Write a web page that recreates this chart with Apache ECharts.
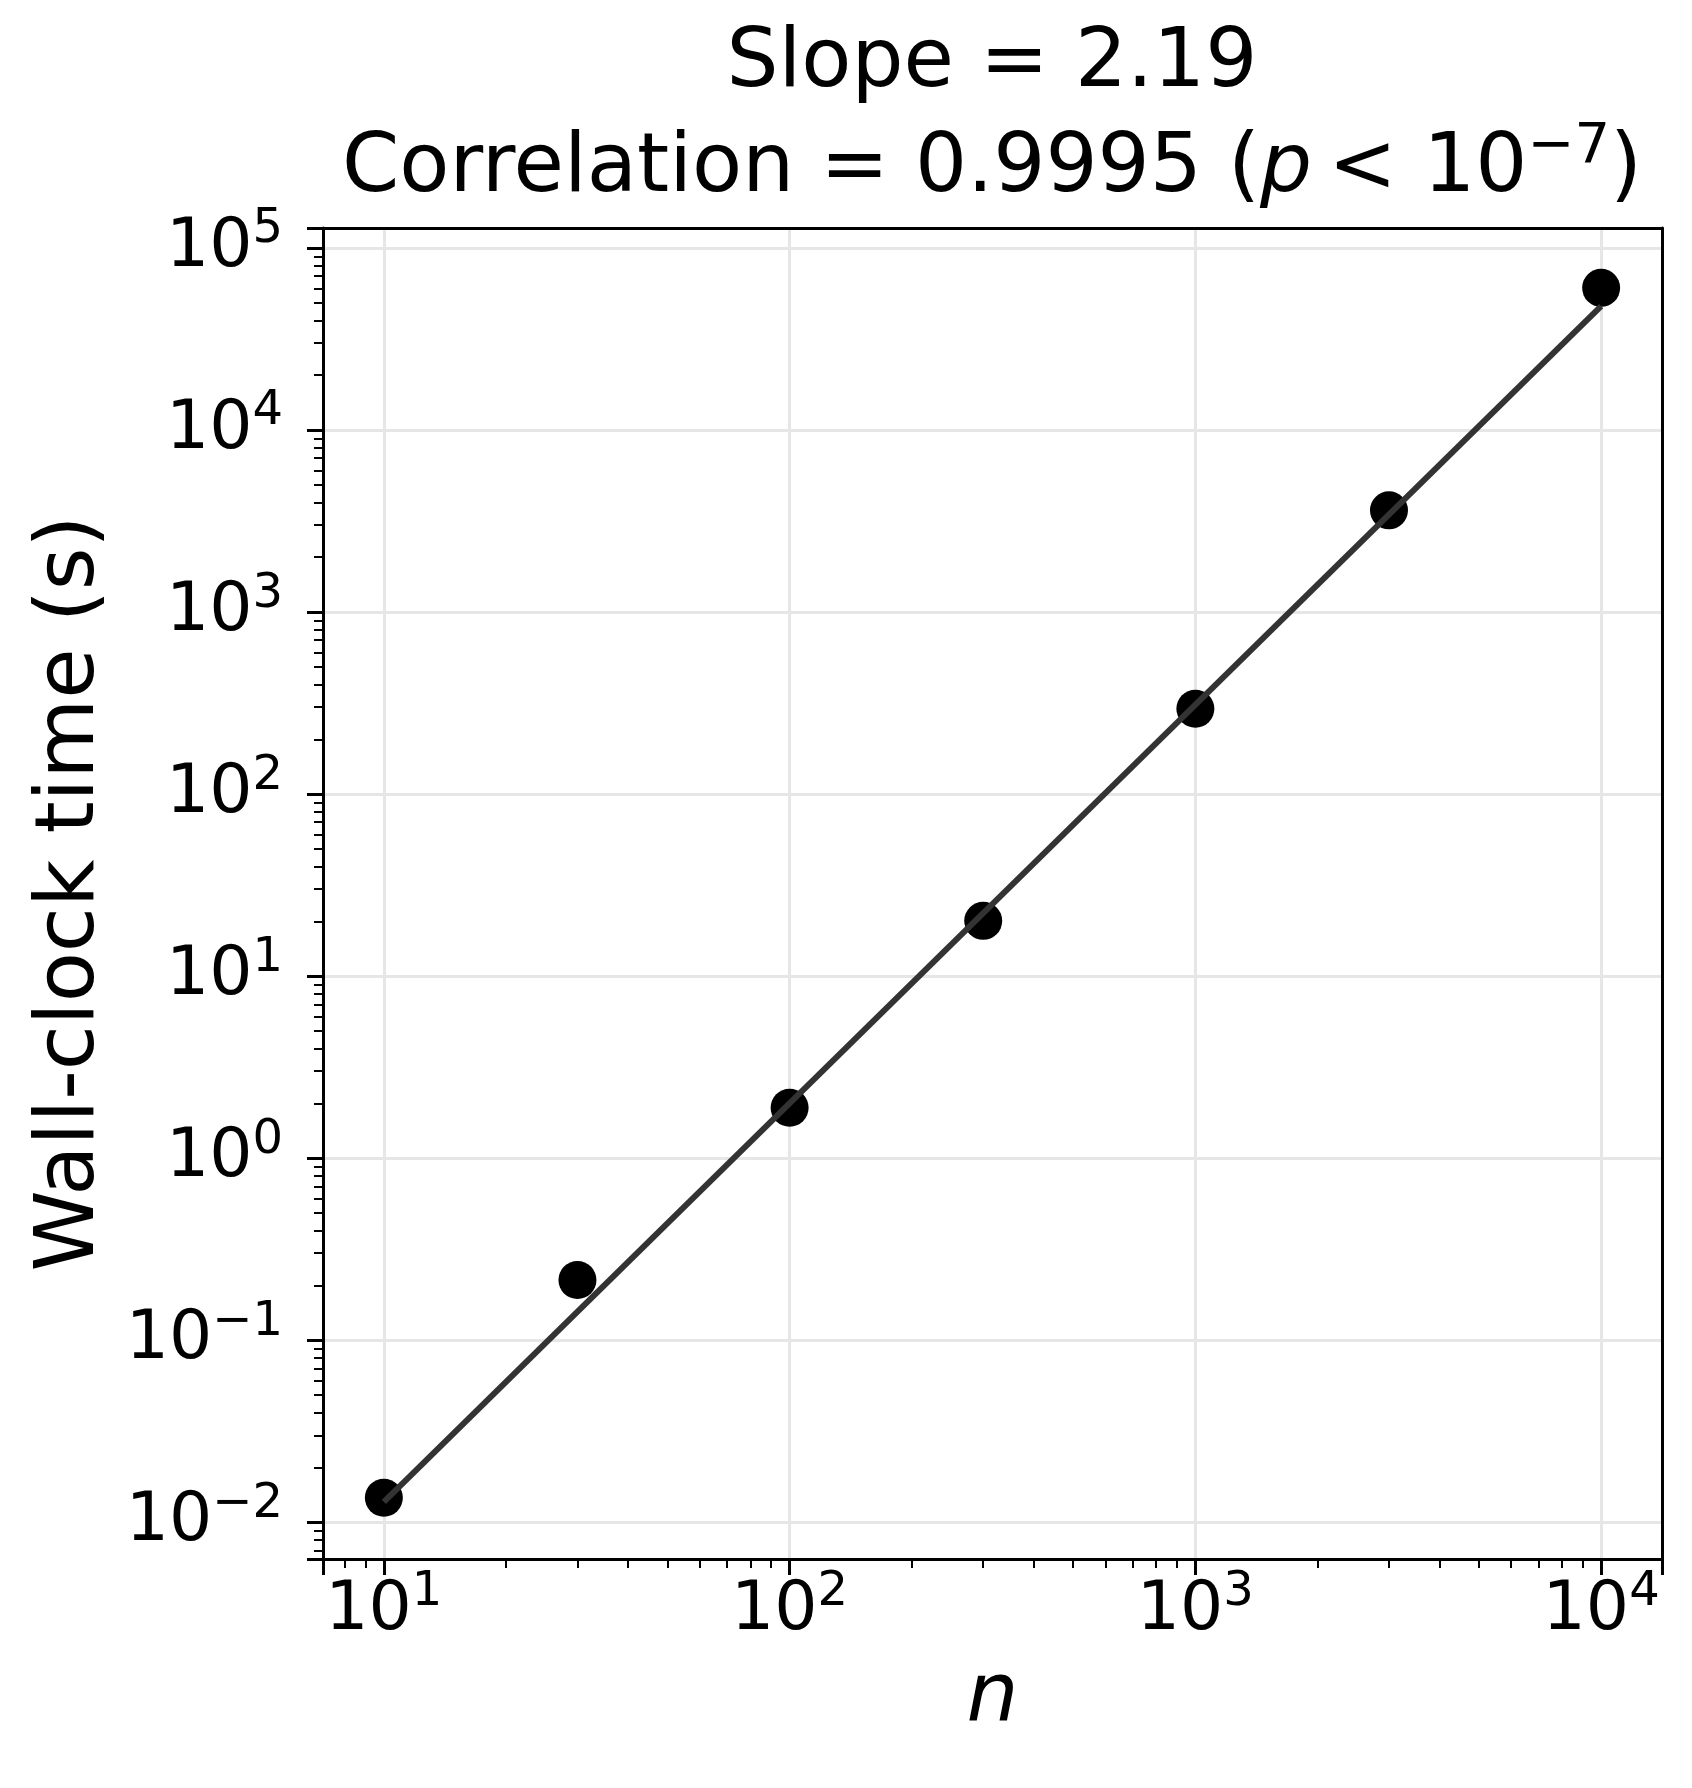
<!DOCTYPE html>
<html>
<head>
<meta charset="utf-8">
<script src="https://cdn.jsdelivr.net/npm/echarts@6/dist/echarts.min.js"></script>
<style>
  html, body { margin: 0; padding: 0; background: #fff; }
  #chart { width: 1692px; height: 1788px; }
</style>
</head>
<body>
<div id="chart"></div>
<script>
// measured points (n vs wall-clock seconds)
const nValues = [10, 30, 100, 300, 1000, 3000, 10000];
const wallTimes = [0.0136, 0.214, 1.89, 20.1, 294, 3620, 60400];
// fitted power-law line, read at its two ends
const fitN = [10, 10000];
const fitTimes = [0.0129, 48000];
// axis ranges (matplotlib 5% margins in log space)
const xRange = [7.08, 14125];
const yRange = [0.00627, 128800];

const FONT = 'DejaVu Sans';

// 10^k label, empty for anything that is not a power of ten
function powLabel(v) {
  const e = Math.log10(v);
  const r = Math.round(e);
  if (Math.abs(e - r) > 1e-6) return '';
  return '{b|10}{sup|' + (r < 0 ? '\u2212' + (-r) : r) + '}';
}

function tickLabel(extra) {
  return Object.assign({
    fontFamily: FONT, fontSize: 68, color: '#000',
    formatter: powLabel,
    rich: {
      b: { fontFamily: FONT, fontSize: 68, lineHeight: 68, color: '#000' },
      // raised exponent: bottom padding lifts the glyphs above the middle line
      sup: { fontFamily: FONT, fontSize: 48, lineHeight: 48, padding: [0, 0, 36, 0], color: '#000' }
    }
  }, extra);
}

const chart = echarts.init(document.getElementById('chart'));
chart.setOption({
  animation: false,
  backgroundColor: '#fff',
  title: {
    text: '{m|Slope = 2.19}\n{m|Correlation = 0.9995 (}{it|p}{m|\u2009< 10}{sup|\u22127}{m|)}',
    left: 992, top: 12, textAlign: 'center', padding: 0,
    textStyle: {
      fontFamily: FONT, fontSize: 82, fontWeight: 'normal', lineHeight: 105, color: '#000',
      rich: {
        m: { fontFamily: FONT, fontSize: 82, lineHeight: 105, color: '#000' },
        it: { fontFamily: FONT, fontSize: 82, lineHeight: 105, fontStyle: 'italic', color: '#000' },
        sup: { fontFamily: FONT, fontSize: 56, lineHeight: 56, padding: [0, 0, 44, 0], color: '#000' }
      }
    }
  },
  grid: { left: 323, right: 30, top: 228, bottom: 229, containLabel: false },
  xAxis: [{
    type: 'log', logBase: 10, min: xRange[0], max: xRange[1], splitNumber: 4,
    name: 'n', nameLocation: 'middle', nameGap: 100,
    nameTextStyle: { fontFamily: FONT, fontSize: 82, fontStyle: 'italic', color: '#000' },
    axisLine: { show: true, onZero: false, lineStyle: { color: '#000', width: 3 } },
    axisTick: { show: true, inside: false, length: 16, lineStyle: { color: '#000', width: 3 } },
    minorTick: { show: true, splitNumber: 9, length: 9, lineStyle: { color: '#000', width: 2 } },
    axisLabel: tickLabel({ margin: 18, showMinLabel: false, showMaxLabel: false }),
    splitLine: { show: true, showMinLine: false, showMaxLine: false, lineStyle: { color: '#e6e6e6', width: 3 } },
    minorSplitLine: { show: false }
  }, {
    type: 'log', logBase: 10, min: xRange[0], max: xRange[1], position: 'top',
    axisLine: { show: true, onZero: false, lineStyle: { color: '#000', width: 3 } },
    axisTick: { show: false }, axisLabel: { show: false }, splitLine: { show: false }
  }],
  yAxis: [{
    type: 'log', logBase: 10, min: yRange[0], max: yRange[1], splitNumber: 8,
    name: 'Wall-clock time (s)', nameLocation: 'middle', nameGap: 210,
    nameTextStyle: { fontFamily: FONT, fontSize: 82, color: '#000' },
    axisLine: { show: true, onZero: false, lineStyle: { color: '#000', width: 3 } },
    axisTick: { show: true, inside: false, length: 16, lineStyle: { color: '#000', width: 3 } },
    minorTick: { show: true, splitNumber: 9, length: 9, lineStyle: { color: '#000', width: 2 } },
    axisLabel: tickLabel({ margin: 40, showMinLabel: false, showMaxLabel: false }),
    splitLine: { show: true, showMinLine: false, showMaxLine: false, lineStyle: { color: '#e6e6e6', width: 3 } },
    minorSplitLine: { show: false }
  }, {
    type: 'log', logBase: 10, min: yRange[0], max: yRange[1], position: 'right',
    axisLine: { show: true, onZero: false, lineStyle: { color: '#000', width: 3 } },
    axisTick: { show: false }, axisLabel: { show: false }, splitLine: { show: false }
  }],
  series: [{
    name: 'fit', type: 'line', xAxisIndex: 0, yAxisIndex: 0,
    data: fitN.map((n, i) => [n, fitTimes[i]]),
    showSymbol: false, symbol: 'none', z: 3,
    lineStyle: { color: '#333333', width: 6 }
  }, {
    name: 'runs', type: 'scatter', xAxisIndex: 0, yAxisIndex: 0,
    data: nValues.map((n, i) => [n, wallTimes[i]]),
    symbol: 'circle', symbolSize: 38, z: 2,
    itemStyle: { color: '#000', opacity: 1 }
  }]
});
</script>
</body>
</html>
